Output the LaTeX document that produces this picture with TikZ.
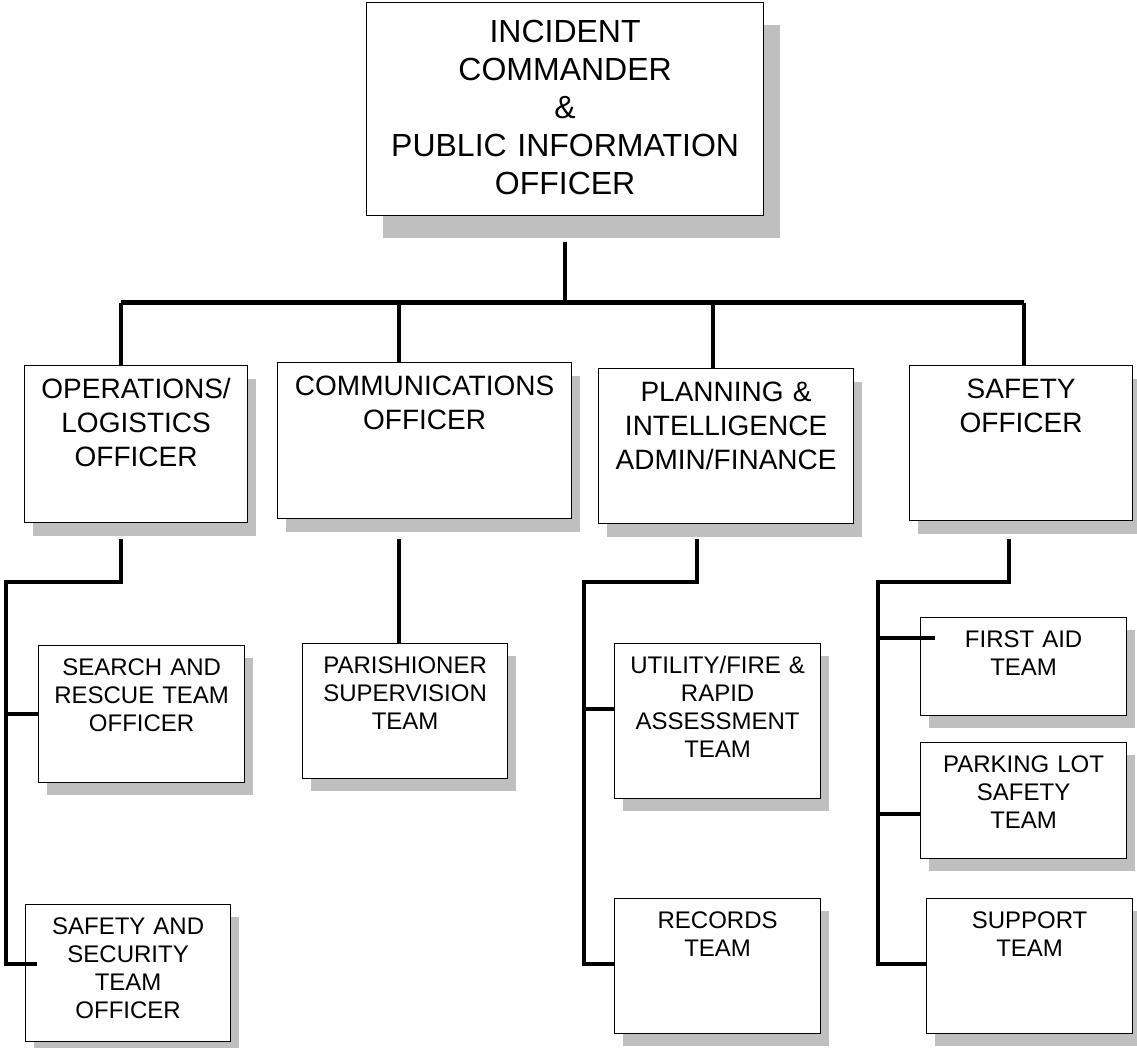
\documentclass[tikz,border=0pt]{standalone}
\usepackage{fontspec}
\setmainfont{Liberation Sans}
\usetikzlibrary{shadows,calc}

\newcommand{\icfont}{\fontsize{32pt}{38pt}\selectfont}
\newcommand{\officerfont}{\fontsize{28pt}{34pt}\selectfont}
\newcommand{\teamfont}{\fontsize{24pt}{28pt}\selectfont}

\tikzset{
  box/.style={draw, fill=white, line width=1.2pt, inner sep=0pt, align=center, anchor=north west},
  topbox/.style={box, font=\icfont, text height=40pt,
    drop shadow={shadow xshift=16pt, shadow yshift=-22pt, opacity=1, fill=black!25}},
  officer/.style={box, font=\officerfont, text height=33pt,
    drop shadow={shadow xshift=8pt, shadow yshift=-13pt, opacity=1, fill=black!25}},
  team/.style={box, font=\teamfont, text height=30pt,
    drop shadow={shadow xshift=8pt, shadow yshift=-12pt, opacity=1, fill=black!25}},
  link/.style={line width=4pt},
}

\begin{document}
\begin{tikzpicture}[x=1pt, y=-1pt]
\useasboundingbox (0,0) rectangle (1137,1048);

% commander
\node[topbox, text width=397pt, text depth=173pt] (ic) at (366,2)
  {INCIDENT\\COMMANDER\\\&\\PUBLIC INFORMATION\\OFFICER};

% officers
\node[officer, text width=223pt, text depth=124pt] (ops) at (24,365) {OPERATIONS/\\LOGISTICS\\OFFICER};
\node[officer, text width=294pt, text depth=123pt] (comms) at (277,362) {COMMUNICATIONS\\OFFICER};
\node[officer, text width=255pt, text depth=122pt] (plan) at (598,368) {PLANNING \&\\INTELLIGENCE\\ADMIN/FINANCE};
\node[officer, text width=223pt, text depth=122pt] (safety) at (909,365) {SAFETY\\OFFICER};

% teams
\node[team, text width=206pt, text depth=107pt] (sar) at (38,645) {SEARCH AND\\RESCUE TEAM\\OFFICER};
\node[team, text width=205pt, text depth=107pt] (safsec) at (25,904) {SAFETY AND\\SECURITY\\TEAM\\OFFICER};
\node[team, text width=205pt, text depth=105pt] (parish) at (302,643) {PARISHIONER\\SUPERVISION\\TEAM};
\node[team, text width=206pt, text depth=125pt] (utility) at (614,643) {UTILITY/FIRE \&\\RAPID\\ASSESSMENT\\TEAM};
\node[team, text width=206pt, text depth=105pt] (records) at (614,898) {RECORDS\\TEAM};
\node[team, text width=206pt, text depth=68pt] (firstaid) at (920,617) {FIRST AID\\TEAM};
\node[team, text width=206pt, text depth=86pt] (parking) at (920,742) {PARKING LOT\\SAFETY\\TEAM};
\node[team, text width=206pt, text depth=105pt] (support) at (926,898) {SUPPORT\\TEAM};

% top bus
\coordinate (busL) at (121,303);
\coordinate (busR) at (1024,303);
\coordinate (dropC) at (399,303);
\coordinate (dropP) at (713,303);
\draw[link] (ic.south) ++(0,26) -- (ic.south |- busL);
\draw[link, line width=5pt] (busL) -- (busR);
\draw[link] (busL) -- (busL |- ops.north);
\draw[link] (dropC) -- (dropC |- comms.north);
\draw[link] (dropP) -- (dropP |- plan.north);
\draw[link] (busR) -- (busR |- safety.north);

% operations branch
\coordinate (opsJ) at (121,582);
\coordinate (opsS) at (6,582);
\coordinate (opsE) at (6,964);
\draw[link] (opsJ |- ops.south) ++(0,16) -- (opsJ) -- (opsS) -- (opsE) -- ($(safsec.west |- opsE)+(12,0)$);
\draw[link] (opsS |- sar.west) -- (sar.west);

% communications branch
\draw[link] (dropC |- comms.south) ++(0,20) -- (dropC |- parish.north);

% planning branch
\coordinate (planJ) at (697,582);
\coordinate (planS) at (584,582);
\coordinate (planU) at (584,709);
\coordinate (planE) at (584,964);
\draw[link] (planJ |- plan.south) ++(0,15) -- (planJ) -- (planS) -- (planE) -- (planE -| records.west);
\draw[link] (planU) -- (planU -| utility.west);

% safety branch
\coordinate (safJ) at (1009,582);
\coordinate (safS) at (878,582);
\coordinate (safA) at (878,638);
\coordinate (safB) at (878,814);
\coordinate (safE) at (878,964);
\draw[link] (safJ |- safety.south) ++(0,18) -- (safJ) -- (safS) -- (safE) -- (safE -| support.west);
\draw[link] (safA) -- ($(safA -| firstaid.west)+(15,0)$);
\draw[link] (safB) -- (safB -| parking.west);
\end{tikzpicture}
\end{document}
